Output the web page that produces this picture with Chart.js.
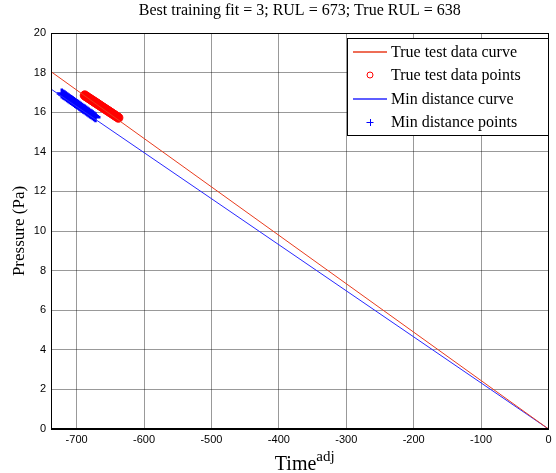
<!DOCTYPE html>
<html lang="en">
<head>
    <meta charset="utf-8" />
    <title>Best training fit</title>
    <script src="https://cdn.jsdelivr.net/npm/chart.js"></script>
    <style>
        html, body { margin: 0; padding: 0; background: #fff; }
        #wrap { width: 556px; height: 473px; }
    </style>
</head>
<body>
    <div id="wrap"><canvas id="Chart1"></canvas></div>

    <script>
        // curves (start and end points)
        var curveX = [-738, 0];
        var trueCurveY = [18.05, 0];
        var minCurveY = [17.17, 0];

        // true test data points (red circles)
        var trueX = [-688, -686, -684, -682, -680, -678, -676, -674, -672, -670, -668, -666, -664,
                     -662, -660, -658, -656, -654, -652, -650, -648, -646, -644, -642, -640, -638];
        var trueY = [16.85, 16.80, 16.76, 16.71, 16.67, 16.62, 16.58, 16.53, 16.49, 16.44, 16.40, 16.35, 16.31,
                     16.26, 16.22, 16.17, 16.13, 16.08, 16.04, 15.99, 15.95, 15.90, 15.86, 15.81, 15.77, 15.72];

        // min distance points (blue plus)
        var minX = [-722, -720, -718, -716, -714, -712, -710, -708, -706, -704, -702, -700, -698,
                    -696, -694, -692, -690, -688, -686, -684, -682, -680, -678, -676, -674, -672];
        var minY = [16.95, 16.90, 16.85, 16.81, 16.76, 16.71, 16.66, 16.61, 16.57, 16.52, 16.47, 16.42, 16.38,
                    16.33, 16.28, 16.23, 16.18, 16.14, 16.09, 16.04, 15.99, 15.94, 15.90, 15.85, 15.80, 15.75];

        var xTicks = [-700, -600, -500, -400, -300, -200, -100, 0];
        var yTicks = [0, 2, 4, 6, 8, 10, 12, 14, 16, 18, 20];

        var titleText = 'Best training fit = 3; RUL = 673; True RUL = 638';
        var labels = ['True test data curve', 'True test data points', 'Min distance curve', 'Min distance points'];
        var colors = ['rgb(232,60,30)', 'rgb(255,0,0)', 'rgb(40,40,255)', 'rgb(0,0,255)'];

        function pts(xs, ys) {
            return xs.map(function (x, i) { return { x: x, y: ys[i] }; });
        }

        var serif = '"Liberation Serif", "Times New Roman", serif';

        var deco = {
            id: 'deco',
            afterDraw: function (chart) {
                var ctx = chart.ctx, a = chart.chartArea;
                ctx.save();

                // axes box
                ctx.strokeStyle = '#000';
                ctx.lineWidth = 1;
                ctx.strokeRect(Math.round(a.left) + 0.5, Math.round(a.top) + 0.5,
                    Math.round(a.right - a.left) - 1, Math.round(a.bottom - a.top) - 1);

                // title
                ctx.fillStyle = '#000';
                ctx.textAlign = 'center';
                ctx.textBaseline = 'middle';
                ctx.font = '16px ' + serif;
                ctx.fillText(titleText, (a.left + a.right) / 2, 11);

                // y label
                ctx.save();
                ctx.translate(20, (a.top + a.bottom) / 2);
                ctx.rotate(-Math.PI / 2);
                ctx.font = '17px ' + serif;
                ctx.fillText('Pressure (Pa)', 0, 0);
                ctx.restore();

                // x label with superscript
                ctx.textAlign = 'left';
                ctx.textBaseline = 'alphabetic';
                ctx.font = '20px ' + serif;
                var w1 = ctx.measureText('Time').width;
                ctx.font = '15px ' + serif;
                var w2 = ctx.measureText('adj').width;
                var x0 = (a.left + a.right) / 2 - (w1 + w2) / 2 + 5;
                ctx.font = '20px ' + serif;
                ctx.fillText('Time', x0, 470);
                ctx.font = '15px ' + serif;
                ctx.fillText('adj', x0 + w1, 461);

                // legend
                var lx = 347, ly = 38, lw = 201, lh = 97;
                ctx.fillStyle = '#fff';
                ctx.fillRect(lx, ly, lw, lh);
                ctx.strokeStyle = '#000';
                ctx.strokeRect(lx + 0.5, ly + 0.5, lw, lh);
                var rows = [52, 75, 99, 122];
                var kinds = ['line', 'circle', 'line', 'cross'];
                labels.forEach(function (lab, i) {
                    var y = rows[i];
                    ctx.strokeStyle = colors[i];
                    ctx.lineWidth = 1;
                    ctx.beginPath();
                    if (kinds[i] === 'line') {
                        ctx.lineWidth = 1.3;
                        ctx.moveTo(353, y);
                        ctx.lineTo(387, y);
                    } else if (kinds[i] === 'circle') {
                        ctx.arc(370, y, 3, 0, Math.PI * 2);
                    } else {
                        ctx.moveTo(366.5, y + 0.5); ctx.lineTo(373.5, y + 0.5);
                        ctx.moveTo(370.5, y - 3); ctx.lineTo(370.5, y + 4);
                    }
                    ctx.stroke();
                    ctx.fillStyle = '#000';
                    ctx.font = '16px ' + serif;
                    ctx.textBaseline = 'middle';
                    ctx.fillText(lab, 391, y + 1);
                });

                ctx.restore();
            }
        };

        var ctx1 = document.getElementById('Chart1').getContext('2d');
        var Chart1 = new Chart(ctx1, {
            type: 'line',
            data: {
                datasets: [{
                    label: labels[0],
                    data: pts(curveX, trueCurveY),
                    borderColor: colors[0],
                    borderWidth: 1,
                    pointRadius: 0,
                    fill: false
                }, {
                    label: labels[1],
                    data: pts(trueX, trueY),
                    showLine: false,
                    borderColor: colors[1],
                    backgroundColor: colors[1],
                    pointStyle: 'circle',
                    pointRadius: 4.5,
                    pointBorderWidth: 1
                }, {
                    label: labels[2],
                    data: pts(curveX, minCurveY),
                    borderColor: colors[2],
                    borderWidth: 1,
                    pointRadius: 0,
                    fill: false
                }, {
                    label: labels[3],
                    data: pts(minX, minY),
                    showLine: false,
                    borderColor: colors[3],
                    backgroundColor: colors[3],
                    pointStyle: 'cross',
                    pointRadius: 5,
                    pointBorderWidth: 2.5
                }]
            },
            options: {
                animation: false,
                responsive: true,
                maintainAspectRatio: false,
                layout: { padding: { left: 0, top: 33, right: 2, bottom: 0 } },
                plugins: {
                    legend: { display: false },
                    title: { display: false },
                    tooltip: { enabled: false }
                },
                scales: {
                    x: {
                        type: 'linear',
                        min: -738,
                        max: 0,
                        afterBuildTicks: function (s) { s.ticks = xTicks.map(function (v) { return { value: v }; }); },
                        afterFit: function (s) { s.height = 44; },
                        grid: { color: 'rgba(0,0,0,0.4)', drawTicks: false },
                        border: { display: true, color: '#000' },
                        ticks: {
                            padding: 4,
                            color: '#000',
                            maxRotation: 0,
                            font: { family: '"Liberation Sans", Arial, sans-serif', size: 11 }
                        }
                    },
                    y: {
                        min: 0,
                        max: 20,
                        afterBuildTicks: function (s) { s.ticks = yTicks.map(function (v) { return { value: v }; }); },
                        afterFit: function (s) { s.width = 51; },
                        grid: { color: 'rgba(0,0,0,0.4)', drawTicks: false },
                        border: { display: true, color: '#000' },
                        ticks: {
                            padding: 5,
                            color: '#000',
                            font: { family: '"Liberation Sans", Arial, sans-serif', size: 11 }
                        }
                    }
                }
            },
            plugins: [deco]
        });
    </script>
</body>
</html>
